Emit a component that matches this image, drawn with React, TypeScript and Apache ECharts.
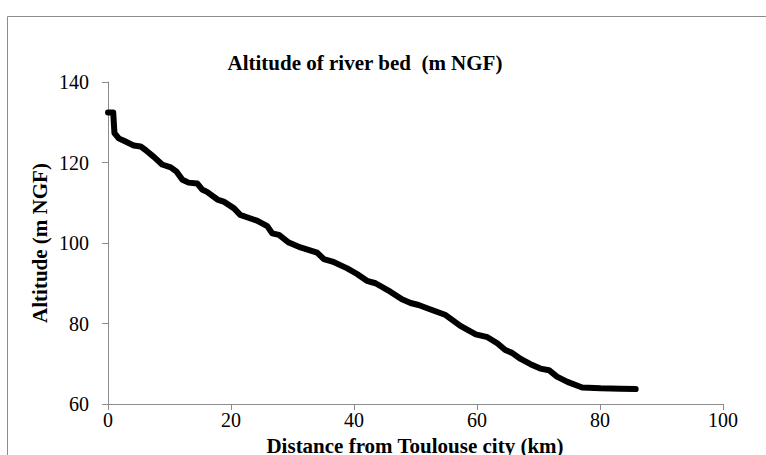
import React, { useEffect, useRef } from "react";
import * as echarts from "echarts";

const distanceKm = [
  0, 0.85, 1.05, 1.75, 2.85, 4.2, 5.3, 6.1, 7.45, 8.8, 10.2, 11.1, 12.1, 13.1, 14.5,
  15.3, 16.1, 17.8, 18.8, 20.5, 21.5, 22.6, 24.3, 25.9, 26.7, 27.8, 29.4, 31.3, 34.0,
  35.1, 36.5, 38.9, 40.5, 42.1, 43.5, 45.9, 47.8, 49.2, 50.5, 51.9, 54.9, 57.3, 59.8,
  61.7, 63.3, 64.6, 65.7, 67.1, 68.7, 70.3, 71.7, 73.0, 74.7, 77.1, 80.1, 83.3, 85.8,
];
const altitudeM = [
  132.4, 132.4, 127.3, 126.0, 125.2, 124.2, 124.0, 123.1, 121.4, 119.5, 118.8, 117.8,
  115.7, 115.0, 114.8, 113.3, 112.7, 110.8, 110.3, 108.6, 107.0, 106.4, 105.5, 104.2,
  102.4, 102.0, 100.1, 98.9, 97.6, 96.0, 95.4, 93.7, 92.3, 90.6, 90.0, 87.9, 86.0,
  85.1, 84.6, 83.8, 82.1, 79.4, 77.3, 76.6, 75.1, 73.4, 72.7, 71.2, 69.9, 68.8, 68.4,
  66.8, 65.5, 64.1, 63.9, 63.8, 63.7,
];
const xTicks = [0, 20, 40, 60, 80, 100];
const yTicks = [60, 80, 100, 120, 140];

const title = "Altitude of river bed  (m NGF)";
const xName = "Distance from Toulouse city (km)";
const yName = "Altitude (m NGF)";

const FONT = "Liberation Serif";
const AXIS_COLOR = "#8c8c8c";

export default function App() {
  const ref = useRef<HTMLDivElement>(null);
  useEffect(() => {
    document.body.style.margin = "0";
    const chart = echarts.init(ref.current!, undefined, { renderer: "svg" });
    const data = distanceKm.map((d, i) => [d, altitudeM[i]]);
    chart.setOption({
      animation: false,
      backgroundColor: "#ffffff",
      graphic: [
        {
          type: "rect",
          shape: { x: 7.5, y: 16.5, width: 900, height: 600 },
          style: { fill: "none", stroke: AXIS_COLOR, lineWidth: 1 },
          silent: true,
        },
        {
          type: "text",
          x: 365,
          y: 63,
          style: {
            text: title,
            fontFamily: FONT,
            fontSize: 21,
            fontWeight: "bold",
            fill: "#000",
            align: "center",
            verticalAlign: "middle",
          },
        },
        {
          type: "text",
          x: 415,
          y: 446,
          style: {
            text: xName,
            fontFamily: FONT,
            fontSize: 21,
            fontWeight: "bold",
            fill: "#000",
            align: "center",
            verticalAlign: "middle",
          },
        },
        {
          type: "text",
          x: 40,
          y: 243,
          rotation: Math.PI / 2,
          style: {
            text: yName,
            fontFamily: FONT,
            fontSize: 21,
            fontWeight: "bold",
            fill: "#000",
            align: "center",
            verticalAlign: "middle",
          },
        },
      ],
      grid: { left: 108, right: 43, top: 82, bottom: 51, containLabel: false },
      xAxis: {
        type: "value",
        min: xTicks[0],
        max: xTicks[xTicks.length - 1],
        interval: 20,
        axisLine: { show: true, lineStyle: { color: AXIS_COLOR, width: 1 } },
        axisTick: { show: true, inside: false, length: 6, lineStyle: { color: AXIS_COLOR } },
        splitLine: { show: false },
        axisLabel: { fontFamily: FONT, fontSize: 20, color: "#000", margin: 6 },
      },
      yAxis: {
        type: "value",
        min: yTicks[0],
        max: yTicks[yTicks.length - 1],
        interval: 20,
        axisLine: { show: true, lineStyle: { color: AXIS_COLOR, width: 1 } },
        axisTick: { show: true, inside: false, length: 6, lineStyle: { color: AXIS_COLOR } },
        splitLine: { show: false },
        axisLabel: { fontFamily: FONT, fontSize: 20, color: "#000", margin: 19 },
      },
      series: [
        {
          type: "line",
          data,
          showSymbol: false,
          symbol: "none",
          smooth: false,
          lineStyle: { color: "#000", width: 6, cap: "round", join: "round" },
        },
      ],
    });
    return () => chart.dispose();
  }, []);
  return (
    <div
      ref={ref}
      style={{ position: "absolute", left: 0, top: 0, width: 766, height: 455 }}
    />
  );
}
